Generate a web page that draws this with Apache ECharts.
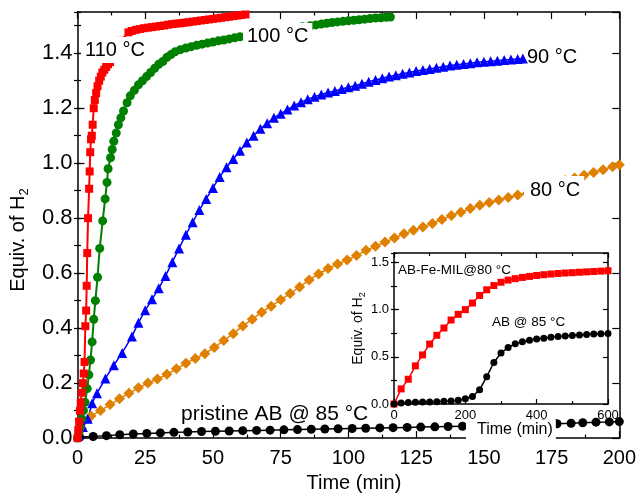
<!DOCTYPE html>
<html>
<head>
<meta charset="utf-8">
<script src="https://cdn.jsdelivr.net/npm/echarts@6/dist/echarts.min.js"></script>
<style>
  html, body { margin: 0; padding: 0; background: #fff; }
  #chart { width: 639px; height: 498px; }
</style>
</head>
<body>
<div id="chart"></div>
<script>
// Hydrogen release curves: equivalents of H2 versus time (min)
const FONT = '"Liberation Sans", Arial, sans-serif';

// 110 °C (red squares)
const t110 = [0, 0.3, 0.6, 0.9, 1.2, 1.6, 2.0, 2.3, 2.6, 2.9, 3.2, 3.4, 3.6, 3.9, 4.3, 4.5, 4.7, 5.0, 5.3, 5.6, 6.0, 6.4, 6.9, 7.4, 8.0, 8.6, 9.2, 9.9, 10.6, 11.3, 12.0, 13.0, 14.5, 16.0, 18.8, 20.0, 21.5, 23.0, 24.5, 26.0, 27.5, 29.0, 30.5, 32.0, 33.5, 35.0, 36.5, 38.0, 39.5, 41.0, 42.5, 44.0, 45.5, 47.0, 48.5, 50.0, 51.5, 53.0, 54.5, 56.0, 57.5, 59.0, 60.5, 62.0];
const v110 = [0, 0.03, 0.06, 0.10, 0.13, 0.165, 0.20, 0.235, 0.277, 0.407, 0.464, 0.554, 0.673, 0.80, 0.907, 0.97, 1.04, 1.087, 1.10, 1.14, 1.20, 1.23, 1.255, 1.28, 1.30, 1.315, 1.33, 1.34, 1.35, 1.36, 1.368, 1.39, 1.42, 1.445, 1.476, 1.481, 1.485, 1.488, 1.491, 1.493, 1.495, 1.497, 1.499, 1.501, 1.504, 1.506, 1.508, 1.509, 1.511, 1.513, 1.515, 1.517, 1.519, 1.521, 1.523, 1.525, 1.527, 1.529, 1.531, 1.533, 1.535, 1.537, 1.539, 1.541];

// 100 °C (green circles)
const t100 = [0, 0.5, 1.0, 1.6, 2.2, 2.8, 3.6, 4.2, 4.8, 5.4, 6.0, 6.6, 7.4, 8.2, 9.3, 10.2, 10.9, 11.3, 12.2, 12.8, 13.4, 14.3, 15.1, 16.0, 17.0, 18.3, 19.5, 21.0, 22.5, 24.0, 25.5, 27.0, 28.5, 30.0, 31.5, 33.0, 34.5, 36.0, 38.0, 40.0, 42.0, 44.0, 46.0, 48.0, 50.0, 52.0, 54.0, 56.0, 58.0, 60.0, 63.0, 67.0, 71.0, 75.0, 79.0, 83.0, 86.0, 88.0, 90.0, 92.0, 94.0, 96.0, 98.0, 100.0, 102.0, 104.0, 106.0, 108.0, 110.0, 112.0, 114.0, 115.5];
const v100 = [0, 0.02, 0.04, 0.07, 0.10, 0.13, 0.18, 0.23, 0.284, 0.35, 0.432, 0.50, 0.585, 0.69, 0.79, 0.87, 0.93, 0.98, 1.02, 1.05, 1.08, 1.11, 1.14, 1.165, 1.19, 1.22, 1.245, 1.265, 1.285, 1.30, 1.315, 1.33, 1.345, 1.36, 1.37, 1.385, 1.395, 1.405, 1.413, 1.419, 1.424, 1.429, 1.433, 1.437, 1.441, 1.445, 1.448, 1.452, 1.456, 1.46, 1.465, 1.472, 1.479, 1.485, 1.491, 1.496, 1.50, 1.503, 1.506, 1.509, 1.512, 1.514, 1.516, 1.518, 1.52, 1.522, 1.524, 1.526, 1.528, 1.529, 1.531, 1.532];

// 90 °C (blue triangles)
const t90 = [0.5, 2.0, 3.8, 5.4, 7.2, 10.3, 13.4, 16.5, 20.1, 22.5, 25.0, 27.5, 30.0, 32.5, 35.0, 37.5, 40.0, 42.5, 45.0, 47.5, 50.0, 52.5, 55.0, 57.5, 60.0, 62.5, 65.0, 67.5, 70.0, 72.5, 75.0, 77.5, 80.0, 82.5, 85.0, 87.5, 90.0, 92.5, 95.0, 97.5, 100.0, 102.5, 105.0, 107.5, 110.0, 112.5, 115.0, 117.5, 120.0, 122.5, 125.0, 127.5, 130.0, 132.5, 135.0, 137.5, 140.0, 142.5, 145.0, 147.5, 150.0, 152.5, 155.0, 157.5, 160.0, 162.5, 164.4];
const v90 = [0.01, 0.04, 0.07, 0.127, 0.163, 0.217, 0.265, 0.31, 0.37, 0.42, 0.465, 0.505, 0.545, 0.59, 0.64, 0.69, 0.74, 0.785, 0.83, 0.87, 0.91, 0.95, 0.985, 1.015, 1.045, 1.075, 1.10, 1.125, 1.145, 1.165, 1.18, 1.195, 1.21, 1.222, 1.233, 1.242, 1.25, 1.257, 1.263, 1.27, 1.276, 1.282, 1.289, 1.296, 1.303, 1.309, 1.315, 1.32, 1.325, 1.33, 1.335, 1.339, 1.343, 1.347, 1.351, 1.355, 1.358, 1.361, 1.364, 1.367, 1.369, 1.371, 1.373, 1.375, 1.377, 1.379, 1.381];

// 80 °C (orange diamonds)
const t80 = [1.5, 5.0, 8.5, 12.0, 15.5, 19.0, 22.5, 26.0, 29.5, 33.0, 36.5, 40.0, 43.5, 47.0, 50.5, 54.0, 57.5, 61.0, 64.5, 68.0, 71.5, 75.0, 78.5, 82.0, 85.5, 89.0, 92.5, 96.0, 99.5, 103.0, 106.5, 110.0, 113.5, 117.0, 120.5, 124.0, 127.5, 131.0, 134.5, 138.0, 141.5, 145.0, 148.5, 152.0, 155.5, 159.0, 162.5, 166.0, 169.5, 173.0, 176.5, 180.0, 183.5, 187.0, 190.5, 194.0, 197.5, 200.0];
const v80 = [0.035, 0.08, 0.10, 0.122, 0.143, 0.163, 0.183, 0.20, 0.215, 0.232, 0.252, 0.272, 0.29, 0.307, 0.33, 0.355, 0.38, 0.408, 0.432, 0.458, 0.48, 0.503, 0.526, 0.55, 0.575, 0.597, 0.617, 0.633, 0.648, 0.664, 0.683, 0.698, 0.713, 0.728, 0.743, 0.756, 0.768, 0.781, 0.795, 0.81, 0.822, 0.835, 0.847, 0.857, 0.866, 0.875, 0.884, 0.89, 0.905, 0.918, 0.928, 0.937, 0.946, 0.956, 0.966, 0.976, 0.987, 0.994];

// pristine AB @ 85 °C (black circles)
const tPristine = [0.8, 5.8, 10.7, 15.6, 20.6, 25.6, 30.6, 35.6, 40.7, 45.8, 50.9, 56.0, 61.0, 66.1, 71.1, 76.2, 81.2, 86.3, 91.3, 96.2, 101.4, 106.4, 111.6, 116.5, 121.7, 126.7, 131.9, 136.8, 142.1, 147.0, 152.0, 157.0, 162.0, 167.0, 172.0, 177.0, 182.2, 186.5, 191.4, 196.3, 200.0];
const vPristine = [0.004, 0.006, 0.009, 0.012, 0.015, 0.017, 0.019, 0.021, 0.022, 0.024, 0.025, 0.026, 0.027, 0.028, 0.029, 0.030, 0.031, 0.032, 0.033, 0.034, 0.035, 0.036, 0.037, 0.038, 0.039, 0.040, 0.041, 0.042, 0.043, 0.044, 0.046, 0.047, 0.048, 0.050, 0.051, 0.052, 0.054, 0.056, 0.058, 0.059, 0.060];

// Inset: AB-Fe-MIL @ 80 °C vs AB @ 85 °C over 600 min
const tInset = [0, 20, 40, 60, 80, 100, 120, 140, 160, 180, 200, 220, 240, 260, 280, 300, 320, 340, 360, 380, 400, 420, 440, 460, 480, 500, 520, 540, 560, 580, 600];
const vFeMil = [0, 0.16, 0.262, 0.404, 0.52, 0.635, 0.728, 0.805, 0.89, 0.95, 1.0, 1.07, 1.15, 1.21, 1.255, 1.29, 1.313, 1.328, 1.341, 1.352, 1.362, 1.37, 1.377, 1.383, 1.388, 1.392, 1.396, 1.40, 1.404, 1.408, 1.412];
const vAB85 = [0, 0.01, 0.015, 0.018, 0.02, 0.022, 0.025, 0.028, 0.032, 0.04, 0.055, 0.08, 0.15, 0.29, 0.44, 0.54, 0.60, 0.638, 0.66, 0.675, 0.688, 0.698, 0.707, 0.714, 0.721, 0.727, 0.732, 0.737, 0.741, 0.745, 0.748];

// Axis ticks
const mainXTicks = { min: 0, max: 200, interval: 25 };
const mainYTicks = { min: 0, max: 1.55, interval: 0.2, minor: 0.1 };
const insetXTicks = { min: 0, max: 600, interval: 200 };
const insetYTicks = { min: 0, max: 1.6, interval: 0.5, minor: 0.25 };

const zip = (ts, vs) => ts.map((t, i) => [t, vs[i]]);

const black = '#000';
const lineAx = { show: true, onZero: false, lineStyle: { color: black, width: 1.5 } };

function xAxisOf(grid, ticks, pos, opts) {
  return Object.assign({
    type: 'value', gridIndex: grid, position: pos,
    min: ticks.min, max: ticks.max, interval: ticks.interval,
    axisLine: lineAx,
    axisTick: { show: true, inside: true, length: opts.major, lineStyle: { color: black, width: 1.2 } },
    minorTick: { show: true, splitNumber: 2, length: opts.minor, lineStyle: { color: black, width: 1.2 } },
    splitLine: { show: false }, minorSplitLine: { show: false },
    axisLabel: pos === 'bottom'
      ? { show: true, color: black, fontFamily: FONT, fontSize: opts.font, margin: opts.margin }
      : { show: false }
  }, opts.extra || {});
}

function yAxesOf(grid, ticks, opts) {
  const list = [];
  ['left', 'right'].forEach(pos => {
    list.push(Object.assign({
      type: 'value', gridIndex: grid, position: pos,
      min: ticks.min, max: ticks.max, interval: ticks.interval,
      axisLine: lineAx,
      axisTick: { show: true, inside: true, length: opts.major, lineStyle: { color: black, width: 1.2 } },
      splitLine: { show: false },
      axisLabel: pos === 'left'
        ? { show: true, color: black, fontFamily: FONT, fontSize: opts.font, margin: opts.margin,
            showMaxLabel: false, formatter: v => v.toFixed(1) }
        : { show: false }
    }, pos === 'left' ? (opts.extra || {}) : {}));
    // minor ticks on a companion axis
    list.push({
      type: 'value', gridIndex: grid, position: pos,
      min: ticks.min, max: ticks.max, interval: ticks.minor,
      axisLine: { show: false },
      axisTick: { show: true, inside: true, length: opts.minor, lineStyle: { color: black, width: 1.2 } },
      splitLine: { show: false },
      axisLabel: { show: false }
    });
  });
  return list;
}

const chart = echarts.init(document.getElementById('chart'), null, { renderer: 'canvas' });

const mainX = xAxisOf(0, mainXTicks, 'bottom', {
  major: 7, minor: 3.5, font: 20, margin: 10,
  extra: {
    name: 'Time (min)', nameLocation: 'middle', nameGap: 30,
    nameTextStyle: { color: black, fontFamily: FONT, fontSize: 20, padding: [0, 0, 0, 11] }
  }
});
const mainXTop = xAxisOf(0, mainXTicks, 'top', { major: 7, minor: 3.5 });
const insetX = xAxisOf(1, insetXTicks, 'bottom', { major: 5, minor: 3, font: 13, margin: 5 });
const insetXTop = xAxisOf(1, insetXTicks, 'top', { major: 5, minor: 3 });

const mainY = yAxesOf(0, mainYTicks, {
  major: 7, minor: 3.5, font: 22, margin: 5,
  extra: {
    name: '{a|Equiv. of H}{s|2}', nameLocation: 'middle', nameGap: 43,
    nameTextStyle: {
      padding: [0, 30, 0, 0],
      rich: {
        a: { fontFamily: FONT, fontSize: 20, color: black, lineHeight: 26 },
        s: { fontFamily: FONT, fontSize: 13, color: black, lineHeight: 13, verticalAlign: 'bottom' }
      }
    }
  }
});
const insetY = yAxesOf(1, insetYTicks, {
  major: 5, minor: 3, font: 13, margin: 5,
  extra: {
    name: '{a|Equiv. of H}{s|2}', nameLocation: 'middle', nameGap: 27,
    nameTextStyle: {
      rich: {
        a: { fontFamily: FONT, fontSize: 14, color: black, lineHeight: 18 },
        s: { fontFamily: FONT, fontSize: 9, color: black, lineHeight: 9, verticalAlign: 'bottom' }
      }
    }
  }
});

function lineSeries(name, data, color, symbol, size, xi, yi, width) {
  return {
    name, type: 'line', data, xAxisIndex: xi, yAxisIndex: yi,
    symbol, symbolSize: size, showSymbol: true,
    itemStyle: { color }, lineStyle: { color, width },
    animation: false, clip: true, z: 3
  };
}

function label(text, left, top, size, withBg, pad) {
  const style = { text, fontFamily: FONT, fontSize: size, fill: black };
  if (withBg) {
    style.backgroundColor = '#fff';
    style.padding = pad;
  }
  return { type: 'text', left, top, z: 100, style };
}

chart.setOption({
  animation: false,
  backgroundColor: '#fff',
  grid: [
    { left: 77, right: 19, top: 12, bottom: 56, containLabel: false },
    { left: 394, right: 31, top: 253, bottom: 94, containLabel: false }
  ],
  xAxis: [mainX, mainXTop, insetX, insetXTop],
  yAxis: mainY.concat(insetY),
  series: [
    lineSeries('pristine AB @ 85 °C', zip(tPristine, vPristine), '#000000', 'circle', 9, 0, 0, 1.5),
    lineSeries('80 °C', zip(t80, v80), '#E08000', 'diamond', 11, 0, 0, 1.5),
    lineSeries('90 °C', zip(t90, v90), '#0000FF', 'triangle', 10, 0, 0, 1.5),
    lineSeries('100 °C', zip(t100, v100), '#008000', 'circle', 9, 0, 0, 2),
    lineSeries('110 °C', zip(t110, v110), '#FF0000', 'rect', 8, 0, 0, 2),
    lineSeries('AB-Fe-MIL@80 °C', zip(tInset, vFeMil), '#FF0000', 'rect', 7, 2, 4, 1.5),
    lineSeries('AB @ 85 °C', zip(tInset, vAB85), '#000000', 'circle', 7, 2, 4, 1.5)
  ],
  graphic: [
    label('110 °C', 81, 37, 20, true, [3, 4, 3, 4]),
    label('100 °C', 243, 23, 20, true, [3, 4, 3, 4]),
    label('90 °C', 527, 47, 20, false),
    label('80 °C', 524, 176, 20, true, [4, 4, 4, 6]),
    label('pristine AB @ 85 °C', 181, 404, 21, false),
    label('AB-Fe-MIL@80 °C', 398, 263, 13.5, false),
    label('AB @ 85 °C', 492, 315, 13.5, false),
    label('Time (min)', 466, 420, 16, true, [2, 3, 2, 11])
  ]
});
</script>
</body>
</html>
